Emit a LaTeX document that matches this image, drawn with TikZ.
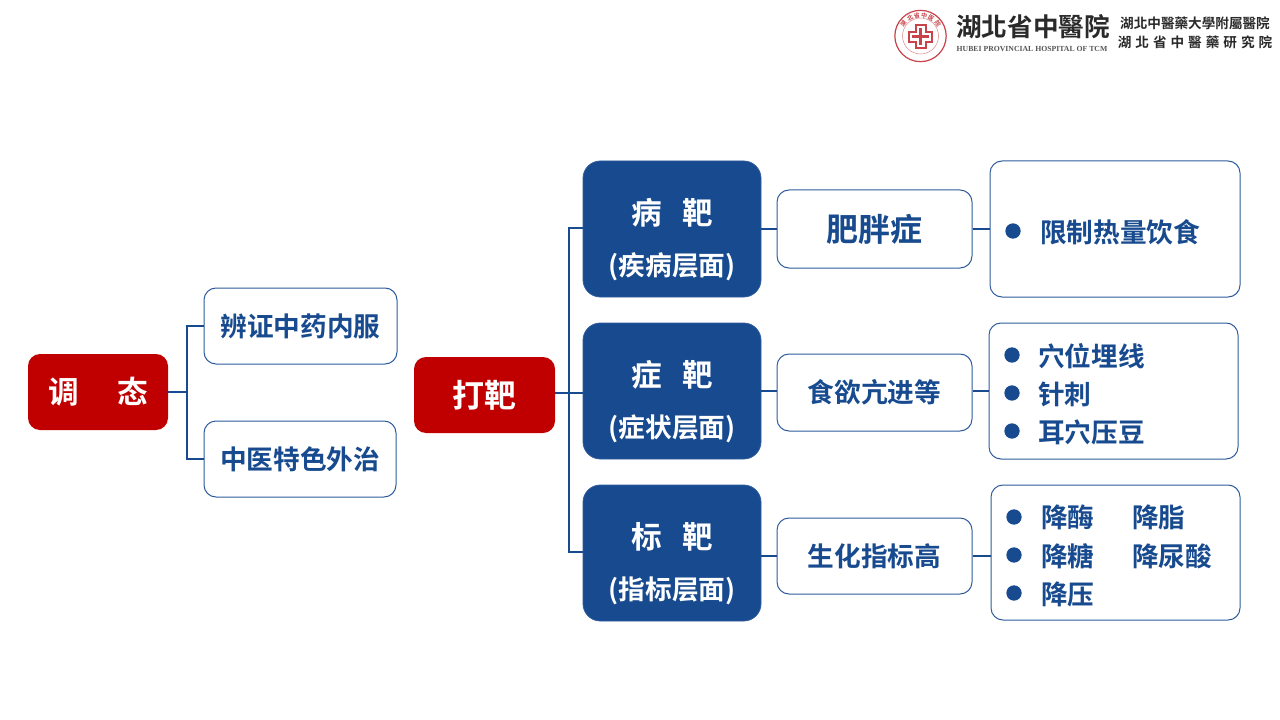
\documentclass[tikz,border=0pt]{standalone}
\usepackage{fontspec}
\setmainfont{Noto Sans CJK SC}[BoldFont={Noto Sans CJK SC Bold}]
\newfontfamily\tcfont{Noto Sans CJK TC}[BoldFont={Noto Sans CJK TC Bold}]
\newfontfamily\enserif{Liberation Serif}
\definecolor{navy}{HTML}{174A8E}
\definecolor{edgeb}{HTML}{2F5C9E}
\definecolor{wine}{HTML}{C00000}
\definecolor{sealred}{HTML}{C8434A}
\definecolor{ink}{HTML}{2A2A2A}
\tikzset{
  boxbase/.style={rectangle,rounded corners=9pt,inner sep=0pt,align=center,font=\bfseries},
  redbox/.style={boxbase,fill=wine,text=white},
  bluebox/.style={boxbase,fill=navy,draw=edgeb,line width=0.6pt,text=white,rounded corners=13pt},
  whitebox/.style={boxbase,fill=white,draw=edgeb,line width=0.75pt,text=navy},
  link/.style={draw=navy,line width=1.7pt},
  bullet/.style={circle,fill=navy,minimum size=11.5pt,inner sep=0pt},
  listitem/.style={anchor=west,inner sep=0pt,text=navy,font=\fontsize{20}{24}\bfseries\selectfont},
  sealchar/.style={text=sealred,inner sep=0pt,font=\fontsize{4.5}{5}\bfseries\selectfont},
}
% #1 name, #2 style, #3 x1, #4 y1, #5 x2, #6 y2, #7 text (pixel coordinates)
\newcommand{\pxbox}[7]{%
  \pgfmathsetmacro{\pxw}{(#5-#3)*0.75}%
  \pgfmathsetmacro{\pxh}{(#6-#4)*0.75}%
  \node[#2,minimum width=\pxw pt,minimum height=\pxh pt] (#1) at ({(#3+#5)/2},{(#4+#6)/2}) {#7};%
}
\newcommand{\headsize}{\fontsize{23}{28}\selectfont}
\newcommand{\subsize}{\fontsize{20}{26}\selectfont}
\newcommand{\headstrut}{\rule{0pt}{35pt}}
\begin{document}
\begin{tikzpicture}[x=0.75pt,y=-0.75pt]
\useasboundingbox[fill=white] (0,0) rectangle (1280,720);

% junction coordinates
\coordinate (jl) at (187,392);
\coordinate (jr) at (569,393);
\coordinate (jrtop) at (569,228);
\coordinate (jrbot) at (569,552);

\pxbox{tiao}{redbox}{28}{354}{168}{430}{\headsize 调\hspace{29pt}态}
\pxbox{bian}{whitebox}{204}{288}{397}{364}{\fontsize{20}{24}\selectfont 辨证中药内服}
\pxbox{waizhi}{whitebox}{204}{421}{396}{497}{\fontsize{20}{24}\selectfont 中医特色外治}
\pxbox{daba}{redbox}{414}{357}{555}{433}{\fontsize{24}{28}\selectfont 打靶}

\pxbox{bing}{bluebox}{583}{161}{761}{297}{{\headstrut\headsize 病\hspace{15pt}靶}\\[18pt]{\subsize (疾病层面)}}
\pxbox{zheng}{bluebox}{583}{323}{761}{459}{{\headstrut\headsize 症\hspace{15pt}靶}\\[18pt]{\subsize (症状层面)}}
\pxbox{biao}{bluebox}{583}{485}{761}{621}{{\headstrut\headsize 标\hspace{15pt}靶}\\[18pt]{\subsize (指标层面)}}

\pxbox{fei}{whitebox}{777}{190}{972}{268}{\fontsize{24}{28}\selectfont 肥胖症}
\pxbox{shi}{whitebox}{777}{354}{972}{431}{\fontsize{20}{24}\selectfont 食欲亢进等}
\pxbox{sheng}{whitebox}{777}{518}{972}{594}{\fontsize{20}{24}\selectfont 生化指标高}

\pxbox{ra}{whitebox}{990}{161}{1240}{297}{}
\pxbox{rb}{whitebox}{989}{323}{1238}{459}{}
\pxbox{rc}{whitebox}{991}{485}{1240}{620}{}

% bullets and list items
\node[bullet] (b1) at (1013,231) {};
\node[listitem] (t1) at (1040,232) {限制热量饮食};
\node[bullet] (b2) at (1012,355) {};
\node[listitem] (t2) at (1038,356) {穴位埋线};
\node[bullet] (b3) at (1012,393) {};
\node[listitem] (t3) at (1038,394) {针刺};
\node[bullet] (b4) at (1012,431) {};
\node[listitem] (t4) at (1038,432) {耳穴压豆};
\node[bullet] (b5) at (1014,517) {};
\node[listitem] (t5) at (1041,517) {降酶};
\node[listitem] (t6) at (1132,517) {降脂};
\node[bullet] (b6) at (1014,555) {};
\node[listitem] (t7) at (1041,556) {降糖};
\node[listitem] (t8) at (1132,556) {降尿酸};
\node[bullet] (b7) at (1014,593) {};
\node[listitem] (t9) at (1041,594) {降压};

% connectors
\draw[link] (tiao.east) -- (jl);
\draw[link] (bian.west) -| (jl) |- (waizhi.west);
\draw[link] (daba.east |- jr) -- (jr);
\draw[link] (bing.west |- jrtop) -- (jrtop) -- (jrbot) -- (biao.west |- jrbot);
\draw[link] (jr) -- (zheng.west |- jr);
\draw[link] (bing.east |- 0,229) -- (fei.west |- 0,229);
\draw[link] (fei.east |- 0,229) -- (ra.west |- 0,229);
\draw[link] (zheng.east |- 0,391) -- (shi.west |- 0,391);
\draw[link] (shi.east |- 0,391) -- (rb.west |- 0,391);
\draw[link] (biao.east |- 0,556) -- (sheng.west |- 0,556);
\draw[link] (sheng.east |- 0,556) -- (rc.west |- 0,556);

% logo
\node[circle,draw=sealred,line width=0.9pt,minimum size=38.5pt,inner sep=0pt] (seal) at (920.5,36) {};
\node[circle,draw=sealred!60,line width=0.4pt,minimum size=27pt,inner sep=0pt] (sealin) at (920.5,36) {};
\fill[sealred] (914.5,24) rectangle (926.5,49);
\fill[sealred] (908,31) rectangle (933,43);
\fill[white] (916.5,26) rectangle (924.5,47);
\fill[white] (910,33) rectangle (931,41);
\fill[sealred] (919,28) rectangle (922,45);
\fill[sealred] (912,35.5) rectangle (929,38.5);
\foreach \ch/\ang in {湖/145,北/120,省/100,中/80,医/60,院/35}{
  \node[sealchar,rotate=\ang-90] at ({920.5+21*cos(\ang)},{36-21*sin(\ang)}) {\ch};
}
\node[inner sep=0pt,text=ink] (logoname) at (1033,27) {\tcfont\bfseries\fontsize{19.2}{24}\selectfont 湖北省中醫院};
\node[inner sep=0pt,text=ink!80] (logoen) at (1032,49) {\enserif\bfseries\fontsize{5.8}{6}\selectfont HUBEI PROVINCIAL HOSPITAL OF TCM};
\node[inner sep=0pt,text=ink] (logoa) at (1195,23) {\tcfont\bfseries\fontsize{10.2}{12}\selectfont 湖北中醫藥大學附屬醫院};
\node[inner sep=0pt,text=ink] (logob) at (1195,42) {\tcfont\bfseries\fontsize{10.2}{12}\selectfont 湖\hspace{3pt}北\hspace{3pt}省\hspace{3pt}中\hspace{3pt}醫\hspace{3pt}藥\hspace{3pt}研\hspace{3pt}究\hspace{3pt}院};
\end{tikzpicture}
\end{document}
